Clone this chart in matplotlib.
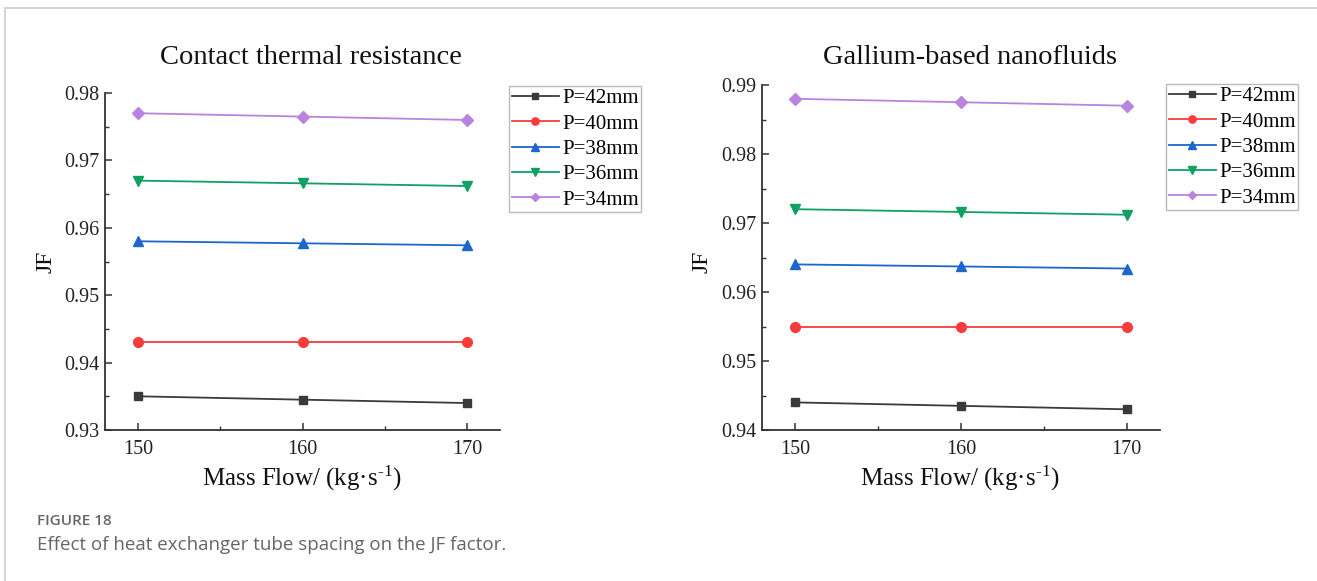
import matplotlib
matplotlib.use("Agg")
import matplotlib.pyplot as plt
from matplotlib.lines import Line2D

mass_flow = [150, 160, 170]
labels = ["P=42mm", "P=40mm", "P=38mm", "P=36mm", "P=34mm"]

contact_42 = [0.935, 0.9345, 0.934]
contact_40 = [0.943, 0.943, 0.943]
contact_38 = [0.958, 0.9577, 0.9574]
contact_36 = [0.967, 0.9666, 0.9662]
contact_34 = [0.977, 0.9765, 0.976]

gallium_42 = [0.944, 0.9435, 0.943]
gallium_40 = [0.955, 0.955, 0.955]
gallium_38 = [0.964, 0.9637, 0.9634]
gallium_36 = [0.972, 0.9716, 0.9712]
gallium_34 = [0.988, 0.9875, 0.987]

colors = ["#3a3a3a", "#f83c3c", "#1f66cc", "#0fa063", "#b983e0"]
markers = ["s", "o", "^", "v", "D"]
msizes = [6, 7, 7, 7, 6]

plt.rcParams["font.family"] = ["Liberation Serif", "DejaVu Serif"]
plt.rcParams["mathtext.fontset"] = "custom"
plt.rcParams["mathtext.rm"] = "Liberation Serif"
plt.rcParams["mathtext.it"] = "Liberation Serif:italic"

W, H = 1317, 581
fig = plt.figure(figsize=(W / 100, H / 100), dpi=100)


def panel(rect, series, ylim, yticks, title, tx, legend_pos, jf_x, xl_x):
    ax = fig.add_axes(rect)
    for ys, c, m, ms, lab in zip(series, colors, markers, msizes, labels):
        ax.plot(mass_flow, ys, color=c, marker=m, markersize=ms, lw=1.3, label=lab)
    ax.set_xlim(148, 172)
    ax.set_ylim(*ylim)
    ax.set_xticks([150, 160, 170])
    ax.set_xticks([155, 165], minor=True)
    ax.set_yticks(yticks)
    ax.set_yticklabels([f"{t:.2f}" for t in yticks])
    step = yticks[1] - yticks[0]
    ax.set_yticks([t + step / 2 for t in yticks[:-1]], minor=True)
    for s in ["top", "right"]:
        ax.spines[s].set_visible(False)
    for s in ["left", "bottom"]:
        ax.spines[s].set_color("#333333")
        ax.spines[s].set_linewidth(1.3)
    ax.tick_params(which="major", direction="in", length=5, width=1.1, labelsize=14.5, colors="#333333", labelcolor="#222222")
    ax.tick_params(which="minor", direction="in", length=3, width=1.0, colors="#333333")
    ax.tick_params(axis="x", pad=7)
    ax.tick_params(axis="y", pad=4)
    fig.text(tx, 1 - 57 / H, title, ha="center", va="center", fontsize=20.5, color="#111111")
    fig.text(jf_x, 1 - 262 / H, "JF", ha="center", va="center", rotation=90, fontsize=17, color="#111111")
    fig.text(xl_x, 1 - 478 / H, "Mass Flow/ (kg\u00b7s$^{\\text{-1}}$)", ha="center", va="center", fontsize=18, color="#111111")
    leg = ax.legend(loc="upper left", bbox_to_anchor=legend_pos, bbox_transform=fig.transFigure,
                    frameon=True, fancybox=False, fontsize=15, handlelength=2.3, handletextpad=0.12,
                    labelspacing=0.28, borderpad=0.12, borderaxespad=0, markerscale=0.75)
    leg.get_frame().set_edgecolor("#aaaaaa")
    leg.get_frame().set_linewidth(1.0)
    return ax


panel([105 / W, 1 - 430 / H, 395 / W, 337 / H],
      [contact_42, contact_40, contact_38, contact_36, contact_34],
      (0.93, 0.98), [0.93, 0.94, 0.95, 0.96, 0.97, 0.98],
      "Contact thermal resistance", 311 / W, (509 / W, 1 - 86 / H), 46 / W, 302 / W)

panel([762 / W, 1 - 430 / H, 398 / W, 345 / H],
      [gallium_42, gallium_40, gallium_38, gallium_36, gallium_34],
      (0.94, 0.99), [0.94, 0.95, 0.96, 0.97, 0.98, 0.99],
      "Gallium-based nanofluids", 970 / W, (1166 / W, 1 - 84 / H), 702 / W, 960 / W)

# page frame lines
fig.add_artist(Line2D([5 / W, 5 / W], [0, 1 - 8 / H], transform=fig.transFigure, color="#d5d5d5", lw=1.5))
fig.add_artist(Line2D([5 / W, 1], [1 - 8 / H, 1 - 8 / H], transform=fig.transFigure, color="#d5d5d5", lw=1.5))

fig.text(37 / W, 1 - 521 / H, "FIGURE 18", ha="left", va="center", fontsize=11,
         family=["Open Sans", "DejaVu Sans"], fontweight="semibold", color="#666666")
fig.text(37 / W, 1 - 545 / H, "Effect of heat exchanger tube spacing on the JF factor.", ha="left", va="center",
         fontsize=13.5, family=["Open Sans", "DejaVu Sans"], color="#666666")

fig.savefig("out.png", dpi=100)
